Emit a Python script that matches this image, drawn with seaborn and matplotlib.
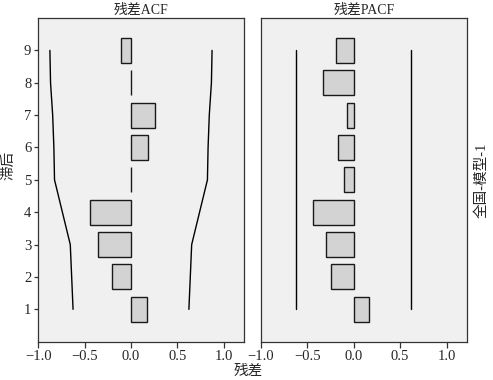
import numpy as np
import pandas as pd
import matplotlib
matplotlib.use("Agg")
import matplotlib.pyplot as plt
import seaborn as sns

lags = [1, 2, 3, 4, 5, 6, 7, 8, 9]
acf_vals = [0.17, -0.21, -0.36, -0.44, 0.0, 0.18, 0.26, -0.002, -0.11]
acf_lower = [-0.625, -0.64, -0.655, -0.74, -0.825, -0.832, -0.845, -0.868, -0.875]
acf_upper = [0.625, 0.64, 0.655, 0.74, 0.825, 0.832, 0.845, 0.868, 0.875]
pacf_vals = [0.17, -0.24, -0.30, -0.44, -0.10, -0.17, -0.075, -0.33, -0.19]
pacf_lower = [-0.62] * 9
pacf_upper = [0.62] * 9

xticks = [-1.0, -0.5, 0.0, 0.5, 1.0]
xtick_labels = ["\u22121.0", "\u22120.5", "0.0", "0.5", "1.0"]

sns.set_style("white")
plt.rcParams['font.family'] = ['Liberation Serif', 'Noto Sans CJK SC']
plt.rcParams['axes.unicode_minus'] = True

fig = plt.figure(figsize=(4.93, 3.80), dpi=100)
ax1 = fig.add_axes([0.0777, 0.1008, 0.4173, 0.8518])
ax2 = fig.add_axes([0.5288, 0.1008, 0.4185, 0.8518])

panels = [
    (ax1, acf_vals, acf_lower, acf_upper, "残差ACF"),
    (ax2, pacf_vals, pacf_lower, pacf_upper, "残差PACF"),
]

for ax, vals, lo, hi, title in panels:
    ax.set_facecolor("#f0f0f0")
    df = pd.DataFrame({"lag": lags, "val": vals})
    sns.barplot(data=df, x="val", y="lag", orient="y", native_scale=True,
                width=0.77, color="#d3d3d3", edgecolor="#1a1a1a",
                linewidth=1.0, saturation=1, ax=ax)
    sns.lineplot(x=lo, y=lags, orient="y", color="black", lw=1.0, ax=ax)
    sns.lineplot(x=hi, y=lags, orient="y", color="black", lw=1.0, ax=ax)
    ax.set_xlim(-1.0, 1.22)
    ax.set_ylim(0, 10)
    ax.set_xticks(xticks)
    ax.set_xticklabels(xtick_labels, fontsize=10.5)
    ax.set_xlabel("")
    ax.set_ylabel("")
    ax.set_title(title, fontsize=10, pad=3)
    for s in ax.spines.values():
        s.set_color("#333333")
        s.set_linewidth(0.9)
    ax.tick_params(axis="x", direction="out", length=4, width=0.9,
                   color="#333333", bottom=True, pad=2)

ax1.set_yticks(lags)
ax1.set_yticklabels([str(l) for l in lags], fontsize=10.5)
ax1.tick_params(axis="y", direction="out", length=3, width=0.9,
                color="#333333", left=True, pad=2)
ax2.set_yticks([])

fig.text(0.503, 0.022, "残差", ha="center", va="center", fontsize=10.5)
fig.text(0.018, 0.565, "滞后", ha="center", va="center", rotation=90, fontsize=10.5)
fig.text(0.978, 0.525, "全国-模型-1", ha="center", va="center", rotation=90, fontsize=10.5)

fig.savefig("out.png", dpi=100)
